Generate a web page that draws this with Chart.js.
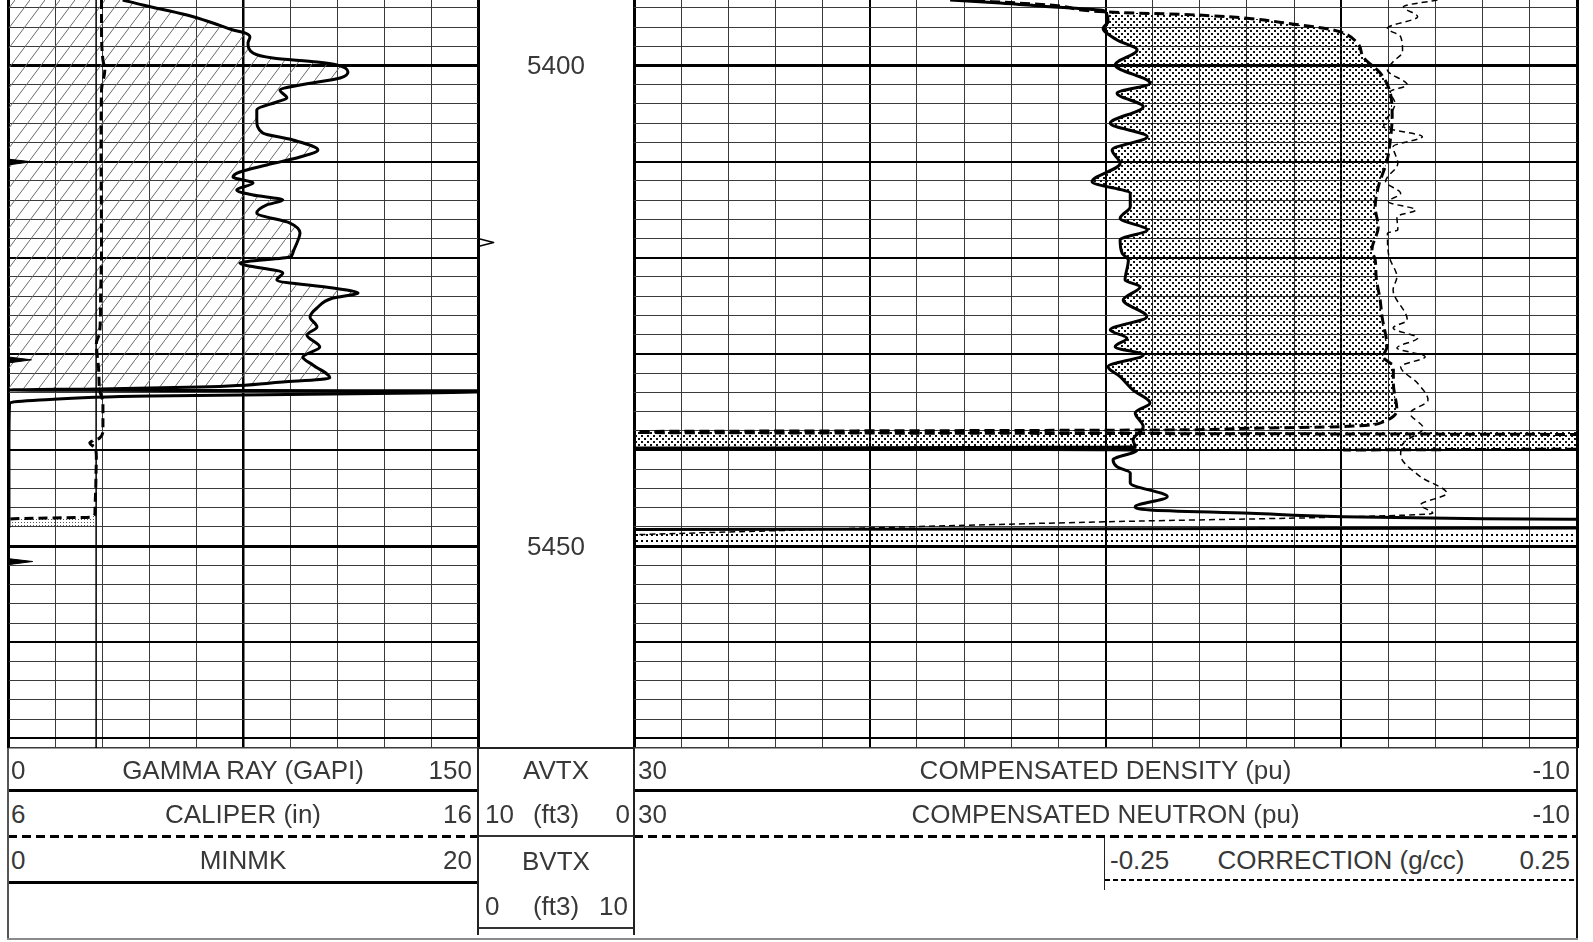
<!DOCTYPE html>
<html lang="en">
<head>
<meta charset="UTF-8">
<title>Log plot</title>
<script src="https://cdn.jsdelivr.net/npm/chart.js"></script>
<style>
  body { margin: 0; background: #fff; }
  #page { position: relative; width: 1593px; height: 942px; overflow: hidden; background: #fff;
    font-family: "Liberation Sans", Arial, sans-serif; font-size: 26px; color: #383838; }
  canvas { position: absolute; top: 0; }
  .t { position: absolute; white-space: nowrap; line-height: 30px; height: 30px; margin-top: -15px; }
  .c { text-align: center; }
  .r { text-align: right; }
  .ln { position: absolute; }
  .dash { background: repeating-linear-gradient(to right, #000 0 9px, transparent 9px 14px); }
  .dot { background: repeating-linear-gradient(to right, #000 0 5px, transparent 5px 8px); }
</style>
</head>
<body>
<div id="page">
  <canvas id="leftTrack" width="490" height="760" style="left:0"></canvas>
  <canvas id="depthTrack" width="172" height="760" style="left:470px"></canvas>
  <canvas id="rightTrack" width="963" height="760" style="left:626px"></canvas>

  <div id="depthLabels"></div>

  <!-- left header -->
  <div class="t" style="left:11px;top:770px">0</div>
  <div class="t c" style="left:8px;width:470px;top:770px">GAMMA RAY (GAPI)</div>
  <div class="t r" style="left:8px;width:464px;top:770px">150</div>
  <div class="ln" style="left:8px;top:789px;width:470px;height:3px;background:#000"></div>
  <div class="t" style="left:11px;top:814px">6</div>
  <div class="t c" style="left:8px;width:470px;top:814px">CALIPER (in)</div>
  <div class="t r" style="left:8px;width:464px;top:814px">16</div>
  <div class="ln dash" style="left:8px;top:835px;width:470px;height:3px"></div>
  <div class="t" style="left:11px;top:860px">0</div>
  <div class="t c" style="left:8px;width:470px;top:860px">MINMK</div>
  <div class="t r" style="left:8px;width:464px;top:860px">20</div>
  <div class="ln" style="left:8px;top:881px;width:470px;height:3px;background:#000"></div>

  <!-- depth header -->
  <div class="ln" style="left:478px;top:747px;width:156px;height:2px;background:#222"></div>
  <div class="t c" style="left:478px;width:156px;top:770px">AVTX</div>
  <div class="t" style="left:485px;top:814px">10</div>
  <div class="t c" style="left:478px;width:156px;top:814px">(ft3)</div>
  <div class="t r" style="left:478px;width:152px;top:814px">0</div>
  <div class="ln" style="left:478px;top:835px;width:156px;height:2px;background:#333"></div>
  <div class="t c" style="left:478px;width:156px;top:861px">BVTX</div>
  <div class="t" style="left:485px;top:906px">0</div>
  <div class="t c" style="left:478px;width:156px;top:906px">(ft3)</div>
  <div class="t r" style="left:478px;width:150px;top:906px">10</div>
  <div class="ln" style="left:478px;top:927px;width:156px;height:2px;background:#333"></div>

  <!-- right header -->
  <div class="t" style="left:638px;top:770px">30</div>
  <div class="t c" style="left:634px;width:943px;top:770px">COMPENSATED DENSITY (pu)</div>
  <div class="t r" style="left:634px;width:936px;top:770px">-10</div>
  <div class="ln" style="left:634px;top:789px;width:943px;height:3px;background:#000"></div>
  <div class="t" style="left:638px;top:814px">30</div>
  <div class="t c" style="left:634px;width:943px;top:814px">COMPENSATED NEUTRON (pu)</div>
  <div class="t r" style="left:634px;width:936px;top:814px">-10</div>
  <div class="ln dash" style="left:634px;top:835px;width:943px;height:3px"></div>
  <div class="ln" style="left:1104px;top:838px;width:1px;height:52px;background:#222"></div>
  <div class="t" style="left:1110px;top:860px">-0.25</div>
  <div class="t c" style="left:1105px;width:472px;top:860px">CORRECTION (g/cc)</div>
  <div class="t r" style="left:1105px;width:465px;top:860px">0.25</div>
  <div class="ln dot" style="left:1105px;top:879px;width:472px;height:2px"></div>

  <!-- frame -->
  <div class="ln" style="left:7px;top:748px;width:2px;height:192px;background:#555"></div>
  <div class="ln" style="left:477px;top:748px;width:2px;height:187px;background:#222"></div>
  <div class="ln" style="left:633px;top:748px;width:2px;height:187px;background:#222"></div>
  <div class="ln" style="left:1576px;top:748px;width:2px;height:192px;background:#111"></div>
  <div class="ln" style="left:7px;top:938px;width:1571px;height:2px;background:#8a8a8a"></div>
</div>

<script>
// depth range of the tracks (ft)
const topDepth = 5393.19
const baseDepth = 5471.0

// grid positions
const grGrid = [0, 15, 30, 45, 60, 75, 90, 105, 120, 135, 150]
const puGrid = [30, 28, 26, 24, 22, 20, 18, 16, 14, 12, 10, 8, 6, 4, 2, 0, -2, -4, -6, -8, -10]
const depthGrid = [5394, 5396, 5398, 5400, 5402, 5404, 5406, 5408, 5410, 5412, 5414, 5416, 5418, 5420,
  5422, 5424, 5426, 5428, 5430, 5432, 5434, 5436, 5438, 5440, 5442, 5444, 5446, 5448, 5450, 5452,
  5454, 5456, 5458, 5460, 5462, 5464, 5466, 5468, 5470, 5471]
const depthLabels = [5400, 5450]

// gamma ray (GAPI)
const grDepth = [5393.19, 5393.71, 5394.75, 5395.58, 5396.31, 5396.62, 5397.04, 5397.66, 5398.70, 5399.22,
  5399.64, 5399.95, 5400.68, 5401.30, 5402.03, 5402.55, 5403.38, 5403.80, 5404.63, 5405.67, 5407.02,
  5407.75, 5408.79, 5409.52, 5410.35, 5411.08, 5411.60, 5412.23, 5412.95, 5413.47, 5413.99, 5414.51,
  5415.35, 5416.39, 5417.43, 5418.47, 5419.51, 5419.92, 5420.55, 5421.59, 5422.32, 5423.15, 5423.67,
  5424.19, 5425.23, 5426.16, 5427.20, 5428.04, 5429.29, 5430.33, 5431.16, 5432.51, 5432.93, 5433.45,
  5433.65, 5433.76, 5433.86, 5434.07, 5434.38, 5434.80, 5435.11, 5440.0, 5448.1]
const grValue = [36.6, 43.0, 57.1, 65.4, 71.8, 75.6, 77.2, 76.6, 78.2, 84.5, 98.6, 105.0, 108.5, 106.0,
  93.2, 86.8, 89.0, 85.8, 79.4, 79.4, 81.3, 90.9, 98.9, 93.2, 82.6, 74.0, 71.8, 78.2, 73.0, 78.2, 87.7,
  82.6, 79.4, 90.0, 93.2, 92.2, 90.9, 90.0, 74.0, 87.7, 85.8, 103.7, 111.7, 103.7, 98.6, 96.4, 98.6,
  95.4, 99.5, 94.1, 97.3, 102.7, 87.7, 61.2, 29.3, 0.5, 156, 131.4, 45.3, 10.1, 0.5, 0.3, 0.3]
const grShadeEnd = 56   // shading stops where GR drops out

// caliper and bit size (in)
const calDepth = [5393.19, 5396.31, 5399.43, 5400.47, 5402.55, 5408.79, 5419.20, 5424.40, 5427.83, 5428.87,
  5431.68, 5433.76, 5435.11, 5437.92, 5438.75, 5439.27, 5439.79, 5440.73, 5443.12, 5446.55, 5446.97,
  5447.18, 5448.10]
const calValue = [7.99, 7.99, 8.02, 8.06, 7.99, 7.98, 7.99, 7.97, 7.95, 7.88, 7.93, 7.95, 8.02, 8.02,
  7.95, 7.74, 7.85, 7.88, 7.87, 7.85, 7.78, 6.04, 6.0]
const bitDepth = [5393.19, 5471.0]
const bitValue = [7.875, 7.875]

// MINMK
const minmkDepth = [5393.19, 5409.74, 5410.02, 5410.35, 5430.32, 5430.62, 5430.95, 5451.30, 5451.60, 5451.93, 5471.0]
const minmkValue = [0, 0, 1.0, 0, 0, 1.0, 0, 0, 1.05, 0, 0]

// BVTX tick (ft3)
const bvtxDepth = [5418.0, 5418.41, 5418.83]
const bvtxValue = [0, 1.0, 0]

// compensated density porosity (pu)
const densDepth = [5393.19, 5393.50, 5393.89, 5394.23, 5394.41, 5395.45, 5396.13, 5397.35, 5398.39, 5399.95,
  5401.85, 5402.89, 5404.29, 5406.02, 5407.41, 5408.79, 5410.18, 5412.09, 5413.30, 5414.69, 5415.90,
  5417.11, 5418.15, 5419.54, 5420.23, 5422.32, 5423.01, 5424.40, 5426.13, 5427.52, 5428.38, 5429.25,
  5430.12, 5431.33, 5432.37, 5433.76, 5435.11, 5436.15, 5437.58, 5438.96, 5439.69, 5439.84, 5440.00,
  5441.04, 5441.74, 5442.39, 5443.43, 5444.86, 5445.90, 5446.24, 5446.58, 5446.94, 5447.15, 5447.21,
  5447.30, 5448.10, 5448.28]
const densPu = [16.59, 14.47, 12.35, 10.23, 10.01, 9.89, 10.10, 9.51, 8.66, 9.59, 8.11, 9.51, 8.40, 9.80,
  8.23, 9.72, 9.38, 10.57, 8.95, 8.95, 9.38, 8.23, 9.38, 9.29, 9.03, 9.17, 8.53, 9.25, 8.25, 9.80, 9.09,
  9.59, 8.40, 9.89, 9.38, 8.83, 8.11, 8.74, 8.40, 8.83, 8.74, 34, 8.66, 9.68, 9.51, 8.95, 8.95, 7.38,
  8.74, 8.11, 3.86, -0.08, -6.02, -9.72, -12, -12, 34]

// compensated neutron porosity (pu)
const neutDepth = [5393.19, 5393.71, 5394.44, 5394.75, 5395.79, 5396.31, 5397.66, 5399.12, 5400.78, 5402.86,
  5405.36, 5407.75, 5409.83, 5412.64, 5414.72, 5416.80, 5419.20, 5420.23, 5421.97, 5424.40, 5426.13,
  5429.25, 5430.29, 5431.33, 5433.06, 5435.84, 5437.06, 5437.58, 5437.74, 5437.92, 5438.13, 5438.44,
  5439.85, 5440.00]
const neutPu = [16.17, 12.35, 9.93, 6.11, 1.74, 0.34, -0.68, -0.93, -1.65, -2.08, -2.16, -2.08, -1.95,
  -1.57, -1.44, -1.57, -1.30, -1.44, -1.48, -1.65, -1.73, -1.94, -1.78, -2.21, -2.21, -2.36, -1.78,
  0.04, 3.86, 8.11, 34, -14, -14, -0.08]

// density correction (g/cc)
const corrDepth = [5393.19, 5393.89, 5394.93, 5396.13, 5397.01, 5398.57, 5399.61, 5400.47, 5402.03, 5402.73,
  5403.94, 5406.37, 5407.41, 5408.45, 5410.18, 5412.09, 5413.30, 5414.17, 5415.03, 5415.73, 5417.11,
  5417.46, 5419.54, 5420.23, 5421.97, 5423.36, 5426.48, 5427.31, 5428.35, 5429.39, 5430.29, 5431.33,
  5433.06, 5434.80, 5436.18, 5437.74, 5439.27, 5440.52, 5442.78, 5444.50, 5445.72, 5446.58, 5446.97,
  5447.46, 5448.84]
const corrValue = [0.102, 0.066, 0.081, 0.049, 0.063, 0.065, 0.055, 0.049, 0.070, 0.052, 0.057, 0.045,
  0.086, 0.055, 0.060, 0.047, 0.063, 0.050, 0.079, 0.059, 0.060, 0.049, 0.050, 0.052, 0.059, 0.055,
  0.070, 0.055, 0.081, 0.059, 0.089, 0.063, 0.081, 0.092, 0.073, 0.087, 0.066, 0.063, 0.084, 0.112,
  0.084, 0.097, 0.002, -0.247, -0.76]

// full width shaded intervals
const gasBandDepth = [5438.13, 5439.95]
const lowBandDepth = [5448.43, 5450.2]

const pts = (depths, values) => depths.map((d, i) => ({x: values[i], y: d}))
const flat = (depths, v) => depths.map(d => ({x: v, y: d}))

function pattern(w, h, paint) {
  const c = document.createElement('canvas')
  c.width = w
  c.height = h
  const g = c.getContext('2d')
  paint(g)
  return g.createPattern(c, 'repeat')
}

const hatch = pattern(15, 20, g => {
  g.strokeStyle = '#6a6a6a'
  g.lineWidth = 1
  g.beginPath()
  g.moveTo(-1.5, 22)
  g.lineTo(16.5, -2)
  g.stroke()
})
const stipple = pattern(6, 6, g => {
  g.fillStyle = '#111'
  g.fillRect(0, 0, 2, 2)
  g.fillRect(3, 3, 2, 2)
})
const lightStipple = pattern(3, 3, g => {
  g.fillStyle = '#555'
  g.fillRect(0, 0, 1, 1)
})
const sparseDots = pattern(5, 6, g => {
  g.fillStyle = '#000'
  g.fillRect(0, 0, 2, 2)
})

function gridAxis(values, widthFn, extra) {
  return Object.assign({
    type: 'linear',
    afterBuildTicks: s => { s.ticks = values.map(v => ({value: v})) },
    afterFit: s => { if (s.isHorizontal()) s.height = 0; else s.width = 0 },
    ticks: {display: false},
    border: {display: false},
    grid: {
      drawTicks: false,
      lineWidth: c => c.tick ? widthFn(c.tick.value) : 1,
      color: c => (c.tick && widthFn(c.tick.value) > 1.5) ? '#000' : '#3a3a3a'
    }
  }, extra)
}

const depthWidth = v => v % 50 === 0 ? 3 : v % 10 === 0 ? 2 : v === baseDepth ? 1.5 : 1
const depthAxis = () => gridAxis(depthGrid, depthWidth, {position: 'left', min: topDepth, max: baseDepth, reverse: true})

const common = {
  type: 'line',
  options: {
    indexAxis: 'y',
    responsive: false,
    devicePixelRatio: 1,
    animation: false,
    events: [],
    elements: {point: {radius: 0}, line: {borderJoinStyle: 'round'}},
    plugins: {legend: {display: false}, tooltip: {enabled: false}, colors: {enabled: false}}
  }
}

function curve(data, axis, width, dash, more) {
  return Object.assign({
    data: data, xAxisID: axis, borderColor: '#000', borderWidth: width,
    borderDash: dash || [], fill: false, cubicInterpolationMode: 'monotone'
  }, more)
}
function shade(data, axis, fill, bg, more) {
  return Object.assign({
    data: data, xAxisID: axis, borderColor: 'transparent', borderWidth: 0,
    fill: fill, backgroundColor: bg, cubicInterpolationMode: 'monotone'
  }, more)
}

// left track: GR, caliper, bit size, MINMK
new Chart(document.getElementById('leftTrack'), {
  type: common.type,
  data: {
    datasets: [
      curve(pts(grDepth, grValue), 'x', 3),
      curve(pts(calDepth, calValue), 'cal', 3, [9, 5]),
      curve(pts(bitDepth, bitValue), 'cal', 1.5, null, {cubicInterpolationMode: 'default'}),
      curve(pts(minmkDepth, minmkValue), 'minmk', 1, null, {cubicInterpolationMode: 'default', fill: 'origin', backgroundColor: '#000'}),
      shade(pts(grDepth.slice(0, grShadeEnd), grValue.slice(0, grShadeEnd)), 'x', 'origin', hatch),
      shade(pts(calDepth, calValue.map(v => Math.min(v, bitValue[0]))), 'cal', 2, lightStipple)
    ]
  },
  options: Object.assign({}, common.options, {
    layout: {padding: {left: 8, right: 12, top: 0, bottom: 12}},
    scales: {
      x: gridAxis(grGrid, v => (v === 0 || v === 150) ? 3 : v === 75 ? 2.5 : 1, {position: 'bottom', min: 0, max: 150}),
      cal: {type: 'linear', display: false, min: 6, max: 16},
      minmk: {type: 'linear', display: false, min: 0, max: 20},
      y: depthAxis()
    }
  })
})

// depth track
const depthChart = new Chart(document.getElementById('depthTrack'), {
  type: common.type,
  data: {
    datasets: [curve(pts(bvtxDepth, bvtxValue), 'x', 1.5, null, {cubicInterpolationMode: 'default'})]
  },
  options: Object.assign({}, common.options, {
    layout: {padding: {left: 8, right: 8, top: 0, bottom: 12}},
    scales: {
      x: {type: 'linear', display: false, min: 0, max: 10},
      y: {type: 'linear', display: false, min: topDepth, max: baseDepth, reverse: true}
    }
  })
})

// right track: density, neutron, correction
new Chart(document.getElementById('rightTrack'), {
  type: common.type,
  data: {
    datasets: [
      curve(pts(densDepth, densPu), 'x', 3),
      curve(pts(neutDepth, neutPu), 'x', 3, [10, 5], {fill: '-1', backgroundColor: stipple}),
      curve(pts(corrDepth, corrValue), 'corr', 1.5, [6, 4]),
      shade(flat(gasBandDepth, 30), 'x', false, 'transparent', {cubicInterpolationMode: 'default'}),
      shade(flat(gasBandDepth, -10), 'x', '-1', stipple, {cubicInterpolationMode: 'default'}),
      shade(flat(lowBandDepth, 30), 'x', false, 'transparent', {cubicInterpolationMode: 'default'}),
      shade(flat(lowBandDepth, -10), 'x', '-1', sparseDots, {cubicInterpolationMode: 'default'})
    ]
  },
  options: Object.assign({}, common.options, {
    layout: {padding: {left: 8, right: 12, top: 0, bottom: 12}},
    scales: {
      x: gridAxis(puGrid, v => (v === 30 || v === -10) ? 3 : v % 10 === 0 ? 2 : 1, {position: 'bottom', min: -10, max: 30, reverse: true}),
      corr: {type: 'linear', display: false, min: -0.75, max: 0.25},
      y: depthAxis()
    }
  })
})

// depth numbers placed with the depth track scale
const labelBox = document.getElementById('depthLabels')
depthLabels.forEach(d => {
  const el = document.createElement('div')
  el.className = 't c'
  el.style.left = '478px'
  el.style.width = '156px'
  el.style.top = depthChart.scales.y.getPixelForValue(d) + 'px'
  el.textContent = d
  labelBox.appendChild(el)
})
</script>
</body>
</html>
